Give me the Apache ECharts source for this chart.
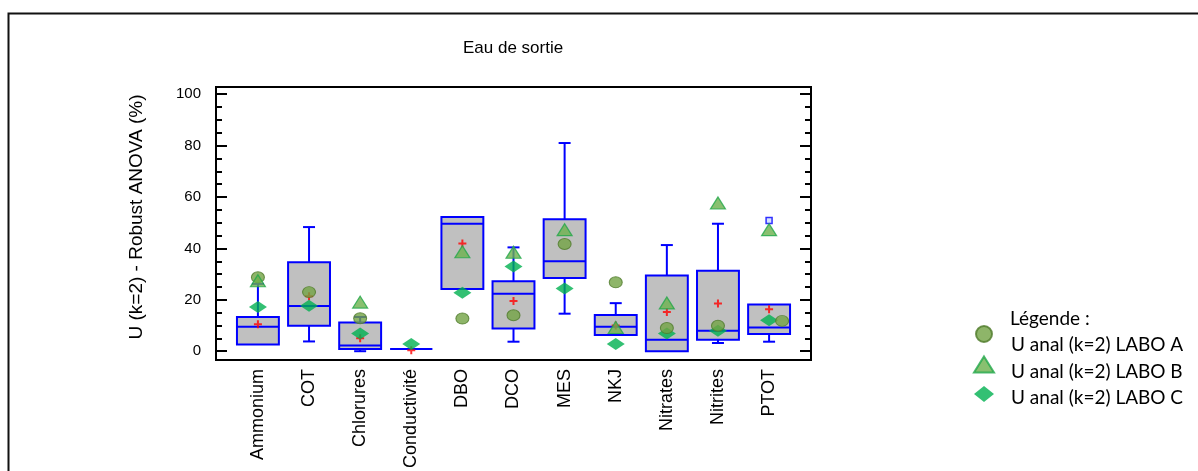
<!DOCTYPE html>
<html>
<head>
<meta charset="utf-8">
<script src="https://cdn.jsdelivr.net/npm/echarts@6/dist/echarts.min.js"></script>
<style>
html,body{margin:0;padding:0;background:#fff;}
#chart{width:1198px;height:471px;}
</style>
</head>
<body>
<div id="chart"></div>
<script>
// ---- Data ----
const categories = ['Ammonium','COT','Chlorures','Conductivité','DBO','DCO','MES','NKJ','Nitrates','Nitrites','PTOT'];
const whiskerLow  = [2.6, 3.8, 0.0, 0.9, 24.2, 3.7, 14.6, 6.3, 0.0, 3.2, 3.7];
const q1          = [2.6, 9.9, 0.9, 0.9, 24.2, 8.8, 28.5, 6.3, 0.0, 4.5, 6.7];
const median      = [9.5, 17.6, 2.2, 0.9, 49.6, 22.4, 35.0, 9.5, 4.5, 8.0, 9.2];
const q3          = [13.3, 34.6, 11.2, 0.9, 52.2, 27.2, 51.3, 14.1, 29.5, 31.3, 18.2];
const whiskerHigh = [26.2, 48.3, 13.3, 0.9, 52.2, 40.4, 81.0, 18.7, 41.3, 49.6, 18.2];
const meanValues  = [10.5, 21.4, 5.0, 0.4, 41.9, 19.5, null, 10.0, 15.3, 18.6, 16.3];
const outliers    = [null, null, null, null, null, null, null, null, null, null, 50.9];
const laboA = [28.8, 23.0, 12.8, null, 12.7, 14.0, 41.7, 26.8, 9.0, 9.9, 11.8];
const laboB = [27.4, null, 19.1, null, 38.7, 38.5, 47.3, 9.2, 18.8, 57.7, 47.3];
const laboC = [17.2, 17.7, 6.9, 2.8, 22.7, 33.0, 24.4, 2.8, 6.9, 8.0, 12.0];
const yMajorTicks = [0, 20, 40, 60, 80, 100];
const yMinorTicks = [5, 10, 15, 25, 30, 35, 45, 50, 55, 65, 70, 75, 85, 90, 95];
const seriesNames = ['U anal (k=2) LABO A', 'U anal (k=2) LABO B', 'U anal (k=2) LABO C'];

// ---- Styling ----
const FONT = '"Liberation Sans", Arial, sans-serif';
const LEG_FONT = 'Lato, "Open Sans", sans-serif';
const Y_MIN = -3.4, Y_MAX = 102.8;
const laboAOffset = {10: [13, 0]}; // visual nudge of a marker in the reference

function pts(arr) {
  const out = [];
  arr.forEach((v, i) => { if (v !== null) out.push([i, v]); });
  return out;
}

function renderBox(params, api) {
  const x = api.value(0);
  const lo = api.value(1), a = api.value(2), m = api.value(3), b = api.value(4), hi = api.value(5);
  const pLo = api.coord([x, lo]), pA = api.coord([x, a]), pM = api.coord([x, m]);
  const pB = api.coord([x, b]), pHi = api.coord([x, hi]);
  const w = api.size([1, 0])[0] * 0.82, half = w / 2, cap = 6;
  const ls = {stroke: '#0000ff', lineWidth: 2, fill: null};
  const children = [];
  if (hi > b) {
    children.push({type: 'line', shape: {x1: pB[0], y1: pB[1], x2: pHi[0], y2: pHi[1]}, style: ls});
    children.push({type: 'line', shape: {x1: pHi[0] - cap, y1: pHi[1], x2: pHi[0] + cap, y2: pHi[1]}, style: ls});
  }
  if (lo < a) {
    children.push({type: 'line', shape: {x1: pA[0], y1: pA[1], x2: pLo[0], y2: pLo[1]}, style: ls});
    children.push({type: 'line', shape: {x1: pLo[0] - cap, y1: pLo[1], x2: pLo[0] + cap, y2: pLo[1]}, style: ls});
  }
  children.push({type: 'rect', shape: {x: pB[0] - half, y: pB[1], width: w, height: pA[1] - pB[1]},
    style: {fill: '#c0c0c0', stroke: '#0000ff', lineWidth: 2}});
  children.push({type: 'line', shape: {x1: pM[0] - half, y1: pM[1], x2: pM[0] + half, y2: pM[1]}, style: ls});
  return {type: 'group', children};
}

function yAxisDef(position, ticks, len, labels) {
  return {
    type: 'value', position, offset: 0, min: Y_MIN, max: Y_MAX,
    axisLine: {show: false, onZero: false},
    splitLine: {show: false},
    axisTick: {show: true, inside: true, length: len, customValues: ticks,
      lineStyle: {color: '#000', width: 2}},
    axisLabel: labels ? {show: true, customValues: yMajorTicks, margin: 15,
      fontSize: 15, color: '#000', fontFamily: FONT} : {show: false}
  };
}

const chart = echarts.init(document.getElementById('chart'), null, {renderer: 'canvas'});
const yAxes = [
  yAxisDef('left', yMajorTicks, 11, true),
  yAxisDef('left', yMinorTicks, 6, false),
  yAxisDef('right', yMajorTicks, 11, false),
  yAxisDef('right', yMinorTicks, 6, false)
];
yAxes[0].name = 'U (k=2) - Robust ANOVA (%)';
yAxes[0].nameLocation = 'middle';
yAxes[0].nameGap = 70;
yAxes[0].nameTextStyle = {fontSize: 19, color: '#000', fontFamily: FONT, padding: [0, 0, 0, 13]};

const option = {
  animation: false,
  backgroundColor: '#fff',
  graphic: [{
    type: 'rect', left: 6, top: 11, shape: {width: 1260, height: 500},
    style: {fill: null, stroke: '#111', lineWidth: 2}, silent: true
  }],
  title: [
    {text: 'Eau de sortie', left: 463, top: 40, padding: 0,
      textStyle: {fontSize: 17, fontWeight: 'normal', color: '#000', fontFamily: FONT}},
    {text: 'Légende :', left: 1010, top: 309, padding: 0,
      textStyle: {fontSize: 19, fontWeight: 'normal', color: '#000', fontFamily: LEG_FONT}}
  ],
  grid: {left: 216, top: 87, width: 595, height: 276, show: true,
    borderColor: '#000', borderWidth: 2, backgroundColor: 'transparent'},
  xAxis: {
    type: 'value', min: -0.82, max: 10.82,
    axisLine: {show: false, onZero: false}, axisTick: {show: false}, splitLine: {show: false},
    axisLabel: {customValues: categories.map((c, i) => i), formatter: v => categories[v] || '',
      rotate: 90, margin: 9, fontSize: 18, color: '#000', fontFamily: FONT}
  },
  yAxis: yAxes,
  legend: [
    { // symbols
      data: seriesNames, orient: 'vertical', left: 973, top: 325, padding: 0,
      itemWidth: 20, itemHeight: 16, itemGap: 12.5, formatter: () => '',
      textStyle: {fontSize: 1}
    },
    { // texts
      data: seriesNames, orient: 'vertical', left: 1005, top: 332, padding: 0,
      itemWidth: 0, itemHeight: 0, itemGap: 0,
      textStyle: {fontSize: 19, lineHeight: 26.5, color: '#000', fontFamily: LEG_FONT}
    }
  ],
  series: [
    {type: 'custom', name: 'box', renderItem: renderBox, z: 2,
      encode: {x: 0, y: [1, 2, 3, 4, 5]},
      data: categories.map((c, i) => [i, whiskerLow[i], q1[i], median[i], q3[i], whiskerHigh[i]])},
    {type: 'scatter', name: 'mean', z: 3, symbol: 'path://M3,0h2v3h3v2h-3v3h-2v-3h-3v-2h3z',
      symbolSize: 8, itemStyle: {color: '#ff0000'}, data: pts(meanValues)},
    {type: 'scatter', name: 'outlier', z: 3, symbol: 'rect', symbolSize: 6,
      itemStyle: {color: '#cfdcff', borderColor: '#0000ff', borderWidth: 1.5}, data: pts(outliers)},
    {type: 'scatter', name: seriesNames[2], z: 4, symbol: 'diamond', symbolSize: [18, 12],
      itemStyle: {color: '#00b050'}, data: pts(laboC)},
    {type: 'scatter', name: seriesNames[0], z: 5, symbol: 'circle', symbolSize: [13, 11],
      itemStyle: {color: '#72a244', borderColor: '#4f7a2a', borderWidth: 1},
      data: pts(laboA).map(p => laboAOffset[p[0]] ? {value: p, symbolOffset: laboAOffset[p[0]]} : p)},
    {type: 'scatter', name: seriesNames[1], z: 6, symbol: 'triangle', symbolSize: [15, 12],
      itemStyle: {color: '#6cb04c', borderColor: '#22a84a', borderWidth: 1.2}, data: pts(laboB)}
  ]
};
chart.setOption(option);
</script>
</body>
</html>
